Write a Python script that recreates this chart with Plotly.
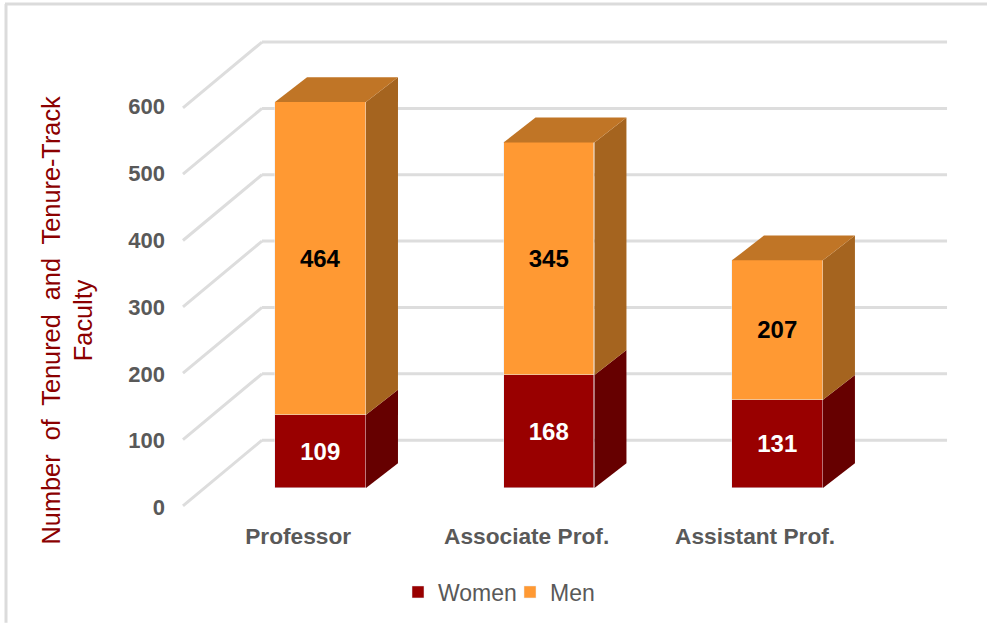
import plotly.graph_objects as go

categories = ["Professor", "Associate Prof.", "Assistant Prof."]
women = [109, 168, 131]
men = [464, 345, 207]
tick_values = [0, 100, 200, 300, 400, 500, 600]

# figure size and margins in pixels
W, H = 987, 624
L, R, T, B = 172, 37, 31, 108

# fake 3D: how far the back of a bar sits from its front, in axis units
BAR_WIDTH = 0.398
DEPTH_X = 0.14
DEPTH_Y = 37
LABEL_SHIFT_X = -0.098
LABEL_BASE = -29
LABEL_SCALE = 0.9926
FLOOR_FRONT = -26.5
FLOOR_BACK = 71.1
WALL_LEFT = -0.256
WALL_RIGHT = 2.742
WALL_FRONT = -0.602
WALL_SCALE = 0.985

x_pos = list(range(len(categories)))


def face(xs, ys, color):
    return go.Scatter(x=xs, y=ys, mode="lines", fill="toself", fillcolor=color,
                      line=dict(width=0), showlegend=False, hoverinfo="skip")


fig = go.Figure()
fig.add_bar(x=x_pos, y=women, name="Women", width=BAR_WIDTH, marker_color="#990000",
            text=women, textposition="inside", insidetextanchor="middle",
            textangle=0, textfont=dict(color="white", size=24, family="Liberation Sans", weight="bold"))
fig.add_bar(x=x_pos, y=men, name="Men", width=BAR_WIDTH, marker_color="#FF9933",
            text=men, textposition="inside", insidetextanchor="middle",
            textangle=0, textfont=dict(color="black", size=24, family="Liberation Sans", weight="bold"))

for x, w, m in zip(x_pos, women, men):
    right = x + BAR_WIDTH / 2
    left = x - BAR_WIDTH / 2
    total = w + m
    # side faces, then the top
    fig.add_trace(face([right, right + DEPTH_X, right + DEPTH_X, right],
                       [0, DEPTH_Y, w + DEPTH_Y, w], "#660000"))
    fig.add_trace(face([right, right + DEPTH_X, right + DEPTH_X, right],
                       [w, w + DEPTH_Y, total + DEPTH_Y, total], "#A5641F"))
    fig.add_trace(face([left, left + DEPTH_X, right + DEPTH_X, right],
                       [total, total + DEPTH_Y, total + DEPTH_Y, total], "#C07526"))

# back wall and side wall lines sit behind the bars
grid = dict(color="#DDDDDD", width=3)
for t in tick_values:
    back = FLOOR_BACK + t * WALL_SCALE
    front = FLOOR_FRONT + t * WALL_SCALE
    fig.add_shape(type="line", layer="below", x0=WALL_LEFT, x1=WALL_RIGHT, y0=back, y1=back, line=grid)
    fig.add_shape(type="line", layer="below", x0=WALL_FRONT, x1=WALL_LEFT, y0=front, y1=back, line=grid)

# chart frame, top and left only
px_x = lambda p: (p - L) / (W - L - R)
px_y = lambda p: 1 - (p - T) / (H - T - B)
frame = dict(color="#DBDBDB", width=3)
fig.add_shape(type="line", xref="paper", yref="paper", x0=px_x(5), x1=px_x(987), y0=px_y(4), y1=px_y(4), line=frame)
fig.add_shape(type="line", xref="paper", yref="paper", x0=px_x(6), x1=px_x(6), y0=px_y(4), y1=px_y(624), line=frame)

fig.add_annotation(xref="paper", yref="paper", x=px_x(67), y=px_y(321), showarrow=False,
                   textangle=-90, xanchor="center", yanchor="middle",
                   text="Number\u00a0 of\u00a0 Tenured\u00a0 and\u00a0 Tenure-Track<br>Faculty",
                   font=dict(size=25.3, color="#8B0000", family="Liberation Sans"))

fig.update_layout(
    width=W, height=H, margin=dict(l=L, r=R, t=T, b=B),
    paper_bgcolor="white", plot_bgcolor="white",
    barmode="stack", bargap=0,
    font=dict(family="Liberation Sans"),
    uniformtext=dict(mode=False),
    legend=dict(orientation="h", x=px_x(510), y=px_y(592), xanchor="center", yanchor="middle",
                traceorder="normal", font=dict(size=23, color="#595959"),
                entrywidth=67, entrywidthmode="pixels",
                itemclick=False, itemdoubleclick=False),
)
fig.update_xaxes(range=[-0.65, 2.755], showgrid=False, zeroline=False, showline=False,
                 tickvals=[x + LABEL_SHIFT_X for x in x_pos], ticktext=categories, ticks="",
                 ticklabelstandoff=5,
                 tickfont=dict(size=22.7, color="#595959", family="Liberation Sans", weight="bold"))
fig.update_yaxes(range=[-40, 678.5], showgrid=False, zeroline=False, showline=False,
                 tickvals=[LABEL_BASE + t * LABEL_SCALE for t in tick_values], ticktext=tick_values, ticks="",
                 ticklabelstandoff=6,
                 tickfont=dict(size=22, color="#595959", family="Liberation Sans", weight="bold"))

# the page's default body margin would push the chart 8px off the window corner
fig.write_html("out.html", config=dict(displayModeBar=False),
               post_script="document.body.style.margin = '0';")
